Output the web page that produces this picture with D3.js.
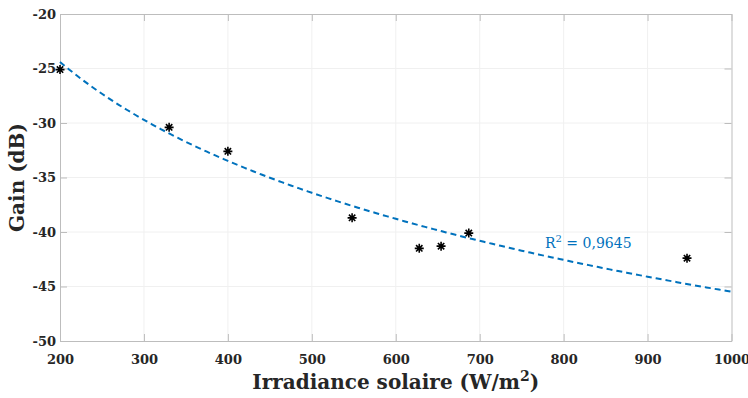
<!DOCTYPE html>
<html><head><meta charset="utf-8">
<script src="https://cdn.jsdelivr.net/npm/d3@7"></script>
<style>body{margin:0;background:#fff}svg{display:block}</style>
</head><body>
<script>
const irradiance = [200, 330, 400, 548, 628, 654, 687, 947];
const gain = [-25.1, -30.4, -32.6, -38.7, -41.5, -41.3, -40.1, -42.4];
const xTicks = [200, 300, 400, 500, 600, 700, 800, 900, 1000];
const yTicks = [-20, -25, -30, -35, -40, -45, -50];
const fitA = -13.1, fitB = 45.01; // gain = fitA*ln(x)+fitB
const fitLabel = "0,9645";

const W = 748, H = 398;
const m = {l: 60, r: 16.5, t: 14, b: 57};
const svg = d3.select("body").append("svg").attr("width", W).attr("height", H);
const x = d3.scaleLinear().domain([200, 1000]).range([m.l, W - m.r]);
const y = d3.scaleLinear().domain([-50, -20]).range([H - m.b, m.t]);
const font = "'DejaVu Serif', 'Liberation Serif', serif";

// grid
svg.append("g").selectAll("line").data(xTicks.slice(1, -1)).join("line")
  .attr("x1", d => x(d)).attr("x2", d => x(d)).attr("y1", y(-20)).attr("y2", y(-50))
  .attr("stroke", "#f0f0f0").attr("stroke-width", 1);
svg.append("g").selectAll("line").data(yTicks.slice(1, -1)).join("line")
  .attr("y1", d => y(d)).attr("y2", d => y(d)).attr("x1", x(200)).attr("x2", x(1000))
  .attr("stroke", "#f0f0f0").attr("stroke-width", 1);

// axes (ticks inside)
const tl = 7;
function styleAxis(g) {
  g.select(".domain").attr("stroke", "#bdbdbd");
  g.selectAll(".tick line").attr("stroke", "#bdbdbd");
  g.selectAll("text").attr("font-family", font).attr("font-weight", "bold")
    .attr("font-size", 13).attr("fill", "#262626");
}
const fmt = d => String(d).replace("\u2212", "-");
svg.append("g").attr("transform", `translate(0,${y(-50)})`)
  .call(d3.axisBottom(x).tickValues(xTicks).tickSizeInner(-tl).tickSizeOuter(0).tickPadding(14).tickFormat(fmt))
  .call(styleAxis);
svg.append("g").attr("transform", `translate(0,${y(-20)})`)
  .call(d3.axisTop(x).tickValues(xTicks).tickSizeInner(-tl).tickSizeOuter(0).tickFormat(""))
  .call(styleAxis);
svg.append("g").attr("transform", `translate(${x(200)},0)`)
  .call(d3.axisLeft(y).tickValues(yTicks).tickSizeInner(-tl).tickSizeOuter(0).tickPadding(4).tickFormat(fmt))
  .call(styleAxis);
svg.append("g").attr("transform", `translate(${x(1000)},0)`)
  .call(d3.axisRight(y).tickValues(yTicks).tickSizeInner(-tl).tickSizeOuter(0).tickFormat(""))
  .call(styleAxis);

// fit curve
const xs = d3.range(200, 1000.1, 5);
svg.append("path").datum(xs)
  .attr("d", d3.line().x(d => x(d)).y(d => y(fitA * Math.log(d) + fitB)))
  .attr("fill", "none").attr("stroke", "#0072BD").attr("stroke-width", 2)
  .attr("stroke-dasharray", "6,4");

// markers
const s = 4.5, s2 = s * 0.7071;
const star = `M${-s},0L${s},0M0,${-s}L0,${s}M${-s2},${-s2}L${s2},${s2}M${-s2},${s2}L${s2},${-s2}`;
svg.append("g").selectAll("path").data(irradiance.map((d, i) => [d, gain[i]])).join("path")
  .attr("transform", d => `translate(${x(d[0])},${y(d[1])})`)
  .attr("d", star).attr("stroke", "#000").attr("stroke-width", 1.6).attr("fill", "none");

// R^2 label
const t = svg.append("text").attr("x", 545).attr("y", 248).attr("font-family", font)
  .attr("font-size", 14).attr("fill", "#0072BD");
t.append("tspan").text("R");
t.append("tspan").attr("dy", -6).attr("font-size", 10).text("2");
t.append("tspan").attr("dy", 6).text(" = " + fitLabel);

// axis labels
const xl = svg.append("text").attr("x", (x(200) + x(1000)) / 2).attr("y", 389).attr("text-anchor", "middle")
  .attr("font-family", font).attr("font-weight", "bold").attr("font-size", 20).attr("fill", "#262626");
xl.append("tspan").text("Irradiance solaire (W/m");
xl.append("tspan").attr("dy", -8).attr("font-size", 14).text("2");
xl.append("tspan").attr("dy", 8).text(")");
svg.append("text").attr("transform", `translate(24,${(y(-20) + y(-50)) / 2}) rotate(-90)`)
  .attr("text-anchor", "middle").attr("font-family", font).attr("font-weight", "bold")
  .attr("font-size", 20).attr("fill", "#262626").text("Gain (dB)");
</script>
</body></html>
